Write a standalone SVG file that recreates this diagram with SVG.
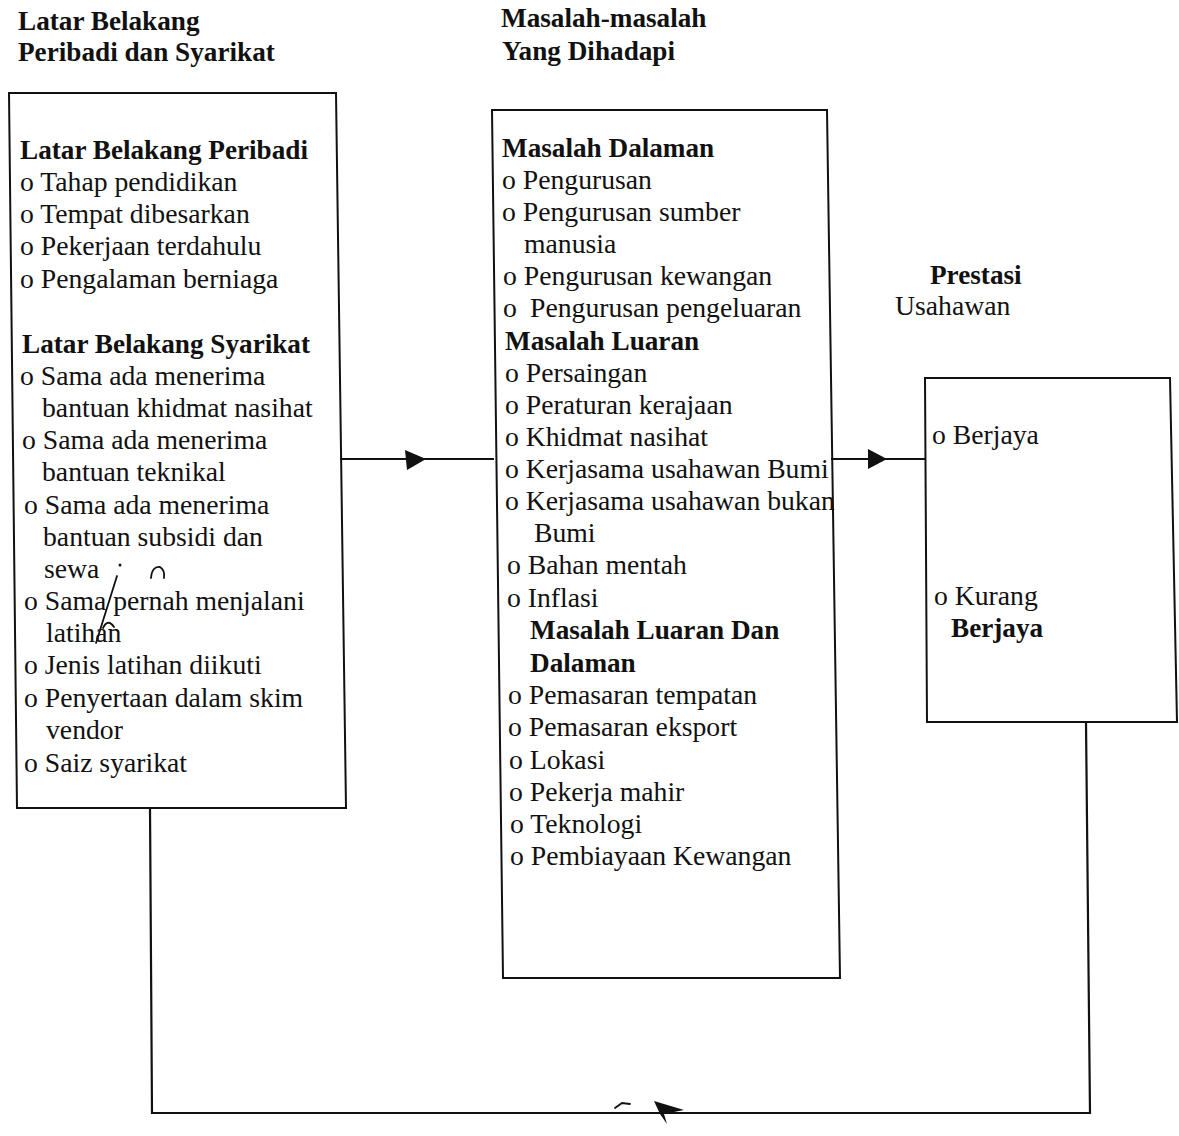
<svg xmlns="http://www.w3.org/2000/svg" width="1179" height="1136" viewBox="0 0 1179 1136">
<style>
text{font-family:"Liberation Serif","Times New Roman",serif;font-size:27.7px;fill:#111}
.b{font-weight:bold;font-size:27.2px}
.box{fill:none;stroke:#111;stroke-width:2}
.ln{fill:none;stroke:#111;stroke-width:2.2}
.pen{fill:none;stroke:#111;stroke-width:1.8;stroke-linecap:round}
</style>
<rect width="1179" height="1136" fill="#fff"/>
<g id="headers">
<text class="b" x="18" y="30">Latar Belakang</text>
<text class="b" x="18" y="61">Peribadi dan Syarikat</text>
<text class="b" x="501" y="27">Masalah-masalah</text>
<text class="b" x="502" y="60">Yang Dihadapi</text>
<text class="b" x="930" y="284">Prestasi</text>
<text x="895" y="315">Usahawan</text>
</g>
<g id="connectors">
<path class="ln" d="M340 459 H494"/>
<path d="M405 450 L426 459 L407 470 Z" fill="#111"/>
<path class="ln" d="M831 459 H925"/>
<path d="M868 449 L887 459 L868 469 Z" fill="#111"/>
<path class="ln" d="M150 808 L152 1113 H1090 L1086 722"/>
<path d="M654 1101 L684 1110 L664 1114 L667 1124 L660 1114 Z" fill="#111"/>
<path class="pen" d="M615 1108 L622 1103 L630 1104"/>
</g>
<g id="node-latar">
<path class="box" d="M9 93 H336 L346 808 H17 Z"/>
<text class="b" x="20" y="159">Latar Belakang Peribadi</text>
<text x="20" y="191">o Tahap pendidikan</text>
<text x="20" y="223">o Tempat dibesarkan</text>
<text x="20" y="255">o Pekerjaan terdahulu</text>
<text x="20" y="288">o Pengalaman berniaga</text>
<text class="b" x="22" y="353">Latar Belakang Syarikat</text>
<text x="20" y="385">o Sama ada menerima</text>
<text x="42" y="417">bantuan khidmat nasihat</text>
<text x="22" y="449">o Sama ada menerima</text>
<text x="42" y="481">bantuan teknikal</text>
<text x="24" y="514">o Sama ada menerima</text>
<text x="43" y="546">bantuan subsidi dan</text>
<text x="44" y="578">sewa</text>
<text x="24" y="610">o Sama pernah menjalani</text>
<text x="46" y="642">latihan</text>
<text x="24" y="674">o Jenis latihan diikuti</text>
<text x="24" y="707">o Penyertaan dalam skim</text>
<text x="46" y="739">vendor</text>
<text x="24" y="772">o Saiz syarikat</text>
<path class="pen" d="M117 576 L96 643"/>
<circle cx="120" cy="565" r="1.5" fill="#111"/>
<path class="pen" d="M151 578 Q152 566 160 567 Q165 570 164 578"/>
<path class="pen" d="M103 628 Q108 618 114 627"/>
</g>
<g id="node-masalah">
<path class="box" d="M492 110 H827 L840 978 H503 Z"/>
<text class="b" x="502" y="157">Masalah Dalaman</text>
<text x="502" y="189">o Pengurusan</text>
<text x="502" y="221">o Pengurusan sumber</text>
<text x="524" y="253">manusia</text>
<text x="503" y="285">o Pengurusan kewangan</text>
<text x="503" y="317">o</text>
<text x="530" y="317">Pengurusan pengeluaran</text>
<text class="b" x="505" y="350">Masalah Luaran</text>
<text x="505" y="382">o Persaingan</text>
<text x="505" y="414">o Peraturan kerajaan</text>
<text x="505" y="446">o Khidmat nasihat</text>
<text x="505" y="478">o Kerjasama usahawan Bumi</text>
<text x="505" y="510">o Kerjasama usahawan bukan</text>
<text x="534" y="542">Bumi</text>
<text x="507" y="574">o Bahan mentah</text>
<text x="507" y="607">o Inflasi</text>
<text class="b" x="530" y="639">Masalah Luaran Dan</text>
<text class="b" x="530" y="672">Dalaman</text>
<text x="508" y="704">o Pemasaran tempatan</text>
<text x="508" y="736">o Pemasaran eksport</text>
<text x="509" y="769">o Lokasi</text>
<text x="509" y="801">o Pekerja mahir</text>
<text x="510" y="833">o Teknologi</text>
<text x="510" y="865">o Pembiayaan Kewangan</text>
</g>
<g id="node-prestasi">
<path class="box" d="M925 378 H1170 L1177 722 H927 Z"/>
<text x="932" y="444">o Berjaya</text>
<text x="934" y="605">o Kurang</text>
<text class="b" x="951" y="637">Berjaya</text>
</g>
</svg>
